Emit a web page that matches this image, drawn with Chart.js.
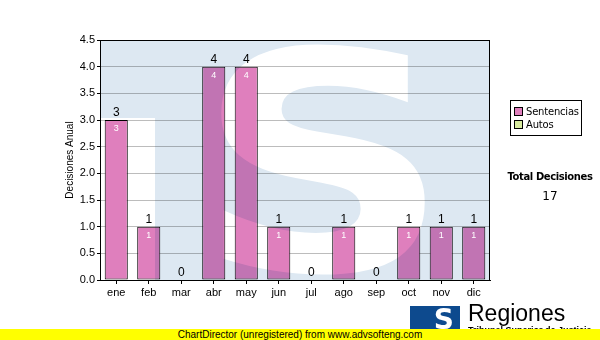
<!DOCTYPE html>
<html>
<head>
<meta charset="utf-8">
<script src="https://cdn.jsdelivr.net/npm/chart.js@4"></script>
<style>
  html, body { margin: 0; padding: 0; background: #fff; }
  #wrap { position: relative; width: 600px; height: 340px; overflow: hidden; font-family: "Liberation Sans", Arial, sans-serif; }
  #chart { position: absolute; left: 0; top: 0; }
  .legend { position: absolute; left: 510px; top: 100px; width: 70px; height: 34px; border: 1px solid #000; background: #fff; font: 10px "DejaVu Sans", Verdana, sans-serif; letter-spacing: -0.2px; }
  .legend div { position: absolute; left: 3px; white-space: nowrap; line-height: 12px; }
  .legend span { display: inline-block; width: 7px; height: 7px; border: 1px solid #000; margin-right: 3px; vertical-align: -1px; }
  .total { position: absolute; left: 500px; width: 100px; text-align: center; }
  .logo { position: absolute; left: 410px; top: 306px; width: 50px; height: 30px; background: #0d4a8e; color: #fff; font: bold 28px "DejaVu Sans", sans-serif; line-height: 28px; text-align: right; padding-right: 6px; box-sizing: border-box; }
  .brand { position: absolute; left: 468px; top: 300px; font: 23px "Liberation Sans", Arial, sans-serif; color: #000; }
  .sub { position: absolute; left: 468px; top: 325px; font: bold 9px "Liberation Sans", Arial, sans-serif; white-space: nowrap; }
  .bar { position: absolute; left: 0; top: 329px; width: 600px; height: 11px; background: #ffff00; text-align: center; font: 10px "Liberation Sans", Arial, sans-serif; line-height: 11px; color: #000; }
</style>
</head>
<body>
<div id="wrap">
  <canvas id="chart" width="600" height="340"></canvas>
  <div class="legend" id="legend"></div>
  <div class="total" style="top:171px;font:bold 10px 'DejaVu Sans', Verdana, sans-serif;letter-spacing:-0.4px;">Total Decisiones</div>
  <div class="total" id="total" style="top:189px;font:12px 'DejaVu Sans', Verdana, sans-serif;"></div>
  <div class="logo">S</div>
  <div class="brand">Regiones</div>
  <div class="sub">Tribunal Superior de Justicia</div>
  <div class="bar">ChartDirector (unregistered) from www.advsofteng.com</div>
</div>
<script>
const months = ['ene', 'feb', 'mar', 'abr', 'may', 'jun', 'jul', 'ago', 'sep', 'oct', 'nov', 'dic'];
const sentencias = [3, 1, 0, 4, 4, 1, 0, 1, 0, 1, 1, 1];
const seriesNames = ['Sentencias', 'Autos'];
const seriesColors = ['#df7fbd', '#d8eca0'];
const yTitle = 'Decisiones Anual';

// legend + total on the right
document.getElementById('legend').innerHTML = seriesNames.map((n, i) =>
  `<div style="top:${5 + i * 13}px"><span style="background:${seriesColors[i]}"></span>${n}</div>`).join('');
document.getElementById('total').textContent = sentencias.reduce((a, b) => a + b, 0);

// light-blue "S" watermark, multiplied over the plot, then value labels and frame
const decor = {
  id: 'decor',
  afterDatasetsDraw(chart) {
    const { ctx, chartArea: a } = chart;
    const w = a.right - a.left, h = a.bottom - a.top;
    const off = document.createElement('canvas');
    off.width = w; off.height = h;
    const o = off.getContext('2d');
    o.fillStyle = '#dde8f2';
    o.fillRect(0, 0, w, h);
    o.fillStyle = '#fff';
    o.fillRect(0, 78, 55, h - 78);
    o.font = 'bold 300px "DejaVu Sans"';
    const m = o.measureText('S');
    const bw = m.actualBoundingBoxLeft + m.actualBoundingBoxRight;
    const bh = m.actualBoundingBoxAscent + m.actualBoundingBoxDescent;
    o.save();
    o.translate(118, 2);
    o.scale(210 / bw, 233 / bh);
    o.fillText('S', m.actualBoundingBoxLeft, m.actualBoundingBoxAscent);
    o.restore();
    ctx.save();
    ctx.globalCompositeOperation = 'multiply';
    ctx.drawImage(off, a.left, a.top);
    ctx.restore();

    const meta = chart.getDatasetMeta(0);
    ctx.save();
    ctx.textAlign = 'center';
    meta.data.forEach((bar, i) => {
      const v = sentencias[i];
      ctx.fillStyle = '#000';
      ctx.font = '12px "Liberation Sans", Arial';
      ctx.textBaseline = 'bottom';
      ctx.fillText(v, bar.x, bar.y - 1);
      if (v > 0) {
        ctx.fillStyle = '#fff';
        ctx.font = '9px "Liberation Sans", Arial';
        ctx.textBaseline = 'top';
        ctx.fillText(v, bar.x, bar.y + 4);
      }
    });
    ctx.strokeStyle = '#000';
    ctx.lineWidth = 1;
    ctx.strokeRect(a.left + 0.5, a.top + 0.5, w - 1, h);
    ctx.restore();
  }
};

new Chart(document.getElementById('chart').getContext('2d'), {
  type: 'bar',
  data: {
    labels: months,
    datasets: [{
      label: seriesNames[0],
      data: sentencias,
      backgroundColor: seriesColors[0],
      borderColor: '#000',
      borderWidth: 1,
      borderSkipped: false,
      barPercentage: 0.71,
      categoryPercentage: 1,
    }],
  },
  options: {
    responsive: false,
    animation: false,
    layout: { padding: { left: 60, top: 40, right: 110, bottom: 40 } },
    plugins: { legend: { display: false }, tooltip: { enabled: false } },
    scales: {
      y: {
        min: 0, max: 4.5,
        afterFit: (s) => { s.width = 40; },
        ticks: { stepSize: 0.5, callback: (v) => v.toFixed(1), color: '#000', font: { family: 'Liberation Sans', size: 11 }, padding: 2 },
        grid: { color: '#bcbcbc', tickColor: '#000', tickLength: 3 },
        border: { color: '#000' },
        title: { display: true, text: yTitle, color: '#000', font: { family: 'Liberation Sans', size: 10 } },
      },
      x: {
        afterFit: (s) => { s.height = 20; },
        ticks: { color: '#000', font: { family: 'Liberation Sans', size: 11 }, padding: 2 },
        grid: { drawOnChartArea: false, offset: false, tickColor: '#000', tickLength: 4 },
        border: { color: '#000' },
      },
    },
  },
  plugins: [decor],
});
</script>
</body>
</html>
